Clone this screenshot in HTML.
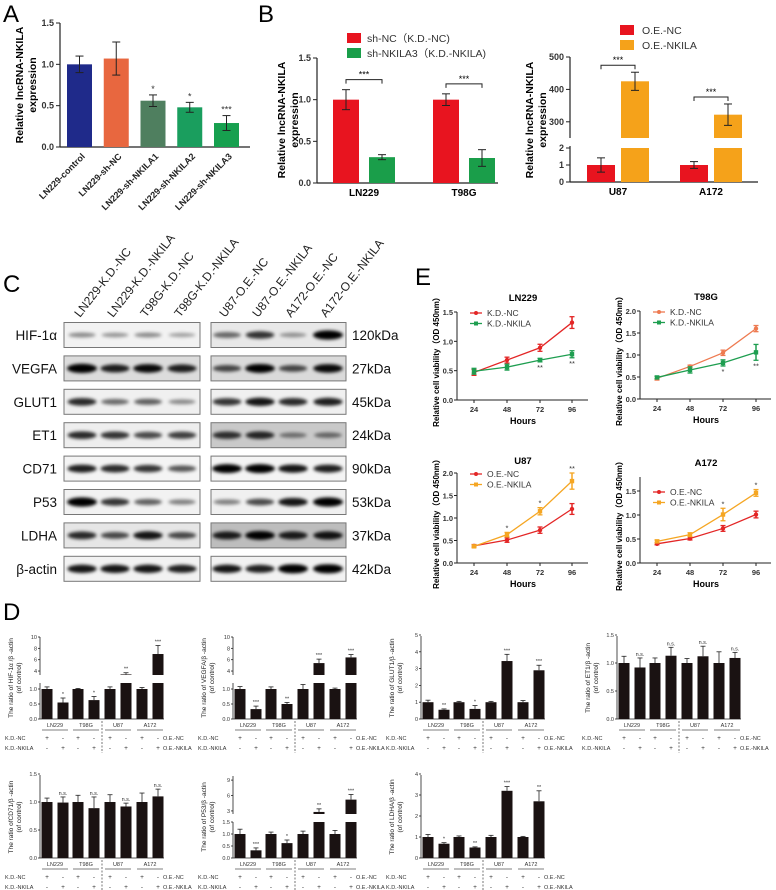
<!DOCTYPE html>
<html><head><meta charset="utf-8">
<style>
html,body{margin:0;padding:0;background:#fff;}
svg{display:block;font-family:"Liberation Sans",Arial,sans-serif;}
</style></head>
<body>
<svg id="fig" width="776" height="890" viewBox="0 0 776 890" xmlns="http://www.w3.org/2000/svg">
<defs>
<filter id="blur" x="-20%" y="-100%" width="140%" height="300%"><feGaussianBlur stdDeviation="1.6"/></filter>
</defs>
<text x="3" y="22" font-size="24">A</text>
<text x="258" y="22" font-size="24">B</text>
<text x="3" y="292" font-size="24">C</text>
<text x="415" y="285" font-size="24">E</text>
<text x="3" y="620" font-size="24">D</text>
</svg>
<script>
// ---------- Panel A data ----------
const aCats=["LN229-control","LN229-sh-NC","LN229-sh-NKILA1","LN229-sh-NKILA2","LN229-sh-NKILA3"];
const aVals=[1.0,1.07,0.56,0.48,0.29];
const aErr=[0.1,0.2,0.07,0.06,0.09];
const aSig=["","","*","*","***"];
const aColors=["#1f2a8a","#e8673f","#4f7f5f","#1a9e5e","#17a04f"];
const aTicks=[0,0.5,1.0,1.5];
// ---------- Panel B data ----------
const bLeftCats=["LN229","T98G"];
const bLeftNC=[1.0,1.0];
const bLeftNCerr=[0.12,0.07];
const bLeftKD=[0.31,0.3];
const bLeftKDerr=[0.03,0.1];
const bRightCats=["U87","A172"];
const bRightNC=[1.0,1.0];
const bRightNCerr=[0.42,0.2];
const bRightOE=[425,322];
const bRightOEerr=[28,33];
// ---------- Panel C data ----------
const cRows=["HIF-1α","VEGFA","GLUT1","ET1","CD71","P53","LDHA","β-actin"];
const cKda=["120kDa","27kDa","45kDa","24kDa","90kDa","53kDa","37kDa","42kDa"];
const cLanes=["LN229-K.D.-NC","LN229-K.D.-NKILA","T98G-K.D.-NC","T98G-K.D.-NKILA","U87-O.E.-NC","U87-O.E.-NKILA","A172-O.E.-NC","A172-O.E.-NKILA"];
const cBands=[
 [.3,.25,.3,.2,.45,.7,.25,1.0],
 [1,.8,.9,.8,.6,.95,.6,.9],
 [.75,.45,.5,.3,.7,.85,.75,.8],
 [.75,.7,.6,.65,.7,.75,.35,.4],
 [.8,.75,.7,.55,.95,.95,.85,.8],
 [1,.7,.5,.35,.35,.6,.85,1],
 [.75,.6,.85,.6,.8,.95,.8,.85],
 [.85,.85,.85,.8,.85,.8,1,1]];
const cBgL=["#f2f2f2","#dcdcdc","#f0f0f0","#eeeeee","#f4f4f4","#f2f2f2","#e6e6e6","#f2f2f2"];
const cBgR=["#e8e8e8","#dadada","#f0f0f0","#c9c9c9","#f4f4f4","#f0f0f0","#bdbdbd","#f2f2f2"];
// ---------- Panel E data ----------
const eHours=[24,48,72,96];
const eLN229NC=[0.47,0.68,0.89,1.32], eLN229NCerr=[0.05,0.05,0.06,0.1];
const eLN229KD=[0.49,0.56,0.68,0.78], eLN229KDerr=[0.05,0.05,0.03,0.06];
const eT98GNC=[0.47,0.74,1.05,1.6], eT98GNCerr=[0.04,0.03,0.06,0.07];
const eT98GKD=[0.49,0.66,0.82,1.06], eT98GKDerr=[0.03,0.07,0.07,0.18];
const eU87NC=[0.38,0.51,0.73,1.2], eU87NCerr=[0.03,0.05,0.07,0.12];
const eU87OE=[0.37,0.63,1.15,1.82], eU87OEerr=[0.03,0.05,0.08,0.18];
const eA172NC=[0.4,0.51,0.72,1.01], eA172NCerr=[0.02,0.03,0.06,0.07];
const eA172OE=[0.45,0.59,1.01,1.46], eA172OEerr=[0.03,0.04,0.13,0.07];
// ---------- Panel D data ----------
const dGroups=["LN229","T98G","U87","A172"];
const dHIF=[1.0,0.55,1.0,0.63,1.0,3.4,1.0,7.0], dHIFerr=[.07,.15,.02,.12,.07,.3,.05,1.5], dHIFsig=["","*","","*","","**","","***"];
const dVEGFA=[1.0,0.33,1.0,0.5,1.0,5.4,1.0,6.4], dVEGFAerr=[.08,.1,.07,.05,.15,.7,.03,.5], dVEGFAsig=["","***","","**","","***","","***"];
const dGLUT1=[1.0,0.55,1.0,0.6,1.0,3.45,1.0,2.9], dGLUT1err=[.12,.05,.05,.2,.05,.4,.1,.3], dGLUT1sig=["","**","","*","","***","","***"];
const dET1=[1.0,0.92,1.0,1.13,1.0,1.12,1.0,1.09], dET1err=[.12,.17,.09,.15,.08,.18,.2,.1], dET1sig=["","n.s.","","n.s.","","n.s.","","n.s."];
const dCD71=[1.0,0.99,1.0,0.89,1.0,0.92,1.0,1.1], dCD71err=[.07,.1,.12,.2,.13,.06,.16,.13], dCD71sig=["","n.s.","","n.s.","","n.s.","","n.s."];
const dP53=[1.0,0.32,1.0,0.62,1.0,2.8,1.0,5.2], dP53err=[.2,.1,.08,.13,.12,.6,.15,1.0], dP53sig=["","***","","*","","**","","***"];
const dLDHA=[1.0,0.68,1.0,0.5,1.0,3.2,1.0,2.7], dLDHAerr=[.12,.05,.05,.03,.08,.2,.03,.5], dLDHAsig=["","*","","**","","***","","**"];

const NS="http://www.w3.org/2000/svg";
const svg=document.getElementById("fig");
function el(tag,a,p){const e=document.createElementNS(NS,tag);for(const k in a)e.setAttribute(k,a[k]);(p||svg).appendChild(e);return e;}
function tx(x,y,s,a){const e=el("text",Object.assign({x:x,y:y},a||{}));e.textContent=s;return e;}
function ln(x1,y1,x2,y2,w,c){return el("line",{x1:x1,y1:y1,x2:x2,y2:y2,stroke:c||"#222","stroke-width":w||1});}
function errBar(x,yLo,yHi,cap){
  const g=el("g",{});
  
  
  el("line",{x1:x,y1:yLo,x2:x,y2:yHi,stroke:"#222","stroke-width":1},g);
  el("line",{x1:x-cap,y1:yLo,x2:x+cap,y2:yLo,stroke:"#222","stroke-width":1},g);
  el("line",{x1:x-cap,y1:yHi,x2:x+cap,y2:yHi,stroke:"#222","stroke-width":1},g);
}

// ================= Panel A =================
(function(){
  const y0=147, k=(147-23)/1.5, ax=60;
  const yA=v=>y0-v*k;
  const axis=ln(ax,23,ax,y0,1.2);
  
  
  const xa=ln(ax,y0,250,y0,1.2);
  
  
  aTicks.forEach(t=>{
    ln(ax-4,yA(t),ax,yA(t),1);
    const l=tx(ax-6,yA(t)+3,t.toFixed(1),{"font-size":9,"font-weight":"bold","text-anchor":"end",fill:"#333"});
    
    
  });
  aCats.forEach((c,i)=>{
    const cx=79.5+i*36.75;
    const r=el("rect",{x:cx-12.5,y:yA(aVals[i]),width:25,height:y0-yA(aVals[i]),fill:aColors[i]});
    
    
    errBar(cx,yA(aVals[i]-aErr[i]),yA(aVals[i]+aErr[i]),4);
    if(aSig[i]){const s=tx(cx,yA(aVals[i]+aErr[i])-3,aSig[i],{"font-size":9,"text-anchor":"middle",fill:"#333"});
      
      }
    const l=tx(cx+6,y0+10,c,{"font-size":9,"font-weight":"bold","text-anchor":"end",fill:"#222",transform:`rotate(-45 ${cx+6} ${y0+10})`});
    
    
  });
  const t1=tx(0,0,"Relative lncRNA-NKILA",{"font-size":10.5,"font-weight":"bold","text-anchor":"middle",transform:"translate(23,85) rotate(-90)"});
  
  
  const t2=tx(0,0,"expression",{"font-size":10.5,"font-weight":"bold","text-anchor":"middle",transform:"translate(36,85) rotate(-90)"});
  
  
})();

// ================= Panel B left =================
(function(){
  const y0=183, k=(183-58)/1.5, ax=317;
  const yB=v=>y0-v*k;
  const a1=ln(ax,58,ax,y0,1.2);
  
  
  const a2=ln(ax,y0,498,y0,1.2);
  
  
  [0,0.5,1.0,1.5].forEach(t=>{ln(ax-4,yB(t),ax,yB(t));
    const l=tx(ax-6,yB(t)+3,t.toFixed(1),{"font-size":9,"font-weight":"bold","text-anchor":"end",fill:"#333"});
    
    });
  const gx=[359,459];
  bLeftCats.forEach((c,i)=>{
    const xr=gx[i]-13, xg=gx[i]+23;
    const r=el("rect",{x:xr-13,y:yB(bLeftNC[i]),width:26,height:y0-yB(bLeftNC[i]),fill:"#e8141f"});
    
    
    errBar(xr,yB(bLeftNC[i]-bLeftNCerr[i]),yB(bLeftNC[i]+bLeftNCerr[i]),4);
    const g=el("rect",{x:xg-13,y:yB(bLeftKD[i]),width:26,height:y0-yB(bLeftKD[i]),fill:"#1a9e4a"});
    
    
    errBar(xg,yB(bLeftKD[i]-bLeftKDerr[i]),yB(bLeftKD[i]+bLeftKDerr[i]),4);
    const by=yB(Math.max(bLeftNC[i]+bLeftNCerr[i],bLeftKD[i]+bLeftKDerr[i]))-10;
    const br=el("path",{d:`M${xr} ${by+4}V${by}H${xg}V${by+4}`,fill:"none",stroke:"#222","stroke-width":1});
    
    
    tx((xr+xg)/2,by-2,"***",{"font-size":9,"text-anchor":"middle"});
    const l=tx(gx[i]+5,y0+13,c,{"font-size":10,"font-weight":"bold","text-anchor":"middle"});
    
    
  });
  const t1=tx(0,0,"Relative lncRNA-NKILA",{"font-size":10.5,"font-weight":"bold","text-anchor":"middle",transform:"translate(285,120) rotate(-90)"});
  
  
  tx(0,0,"expression",{"font-size":10.5,"font-weight":"bold","text-anchor":"middle",transform:"translate(298,120) rotate(-90)"});
  const lg1=el("rect",{x:347,y:33,width:14,height:10,fill:"#e8141f"});
  
  
  const lt1=tx(367,42,"sh-NC（K.D.-NC)",{"font-size":10.5,fill:"#333"});
  
  
  const lg2=el("rect",{x:347,y:48,width:14,height:10,fill:"#1a9e4a"});
  
  
  const lt2=tx(367,57,"sh-NKILA3（K.D.-NKILA)",{"font-size":10.5,fill:"#333"});
  
  
})();

// ================= Panel B right (broken axis) =================
(function(){
  const ax=570, y0=182;
  const yLow=v=>y0-v*((182-148)/2);
  const yUp=v=>138-(v-250)*((138-57)/250);
  const yR=v=>v<=2?yLow(v):yUp(v);
  const a1=ln(ax,57,ax,138,1.2);
  
  
  const a2=ln(ax,146,ax,y0,1.2);
  
  
  const a3=ln(ax,y0,758,y0,1.2);
  
  
  [300,400,500].forEach(t=>{ln(ax-4,yUp(t),ax,yUp(t));
    const l=tx(ax-6,yUp(t)+3,String(t),{"font-size":9,"font-weight":"bold","text-anchor":"end",fill:"#333"});
    
    });
  [0,1,2].forEach(t=>{ln(ax-4,yLow(t),ax,yLow(t));
    const l=tx(ax-6,yLow(t)+3,String(t),{"font-size":9,"font-weight":"bold","text-anchor":"end",fill:"#333"});
    
    });
  const gx=[618,711];
  bRightCats.forEach((c,i)=>{
    const xr=gx[i]-17, xo=gx[i]+17;
    const r=el("rect",{x:xr-14,y:yR(bRightNC[i]),width:28,height:y0-yR(bRightNC[i]),fill:"#e8141f"});
    
    
    errBar(xr,yR(bRightNC[i]-bRightNCerr[i]),yR(bRightNC[i]+bRightNCerr[i]),4);
    const o1=el("rect",{x:xo-14,y:148,width:28,height:34,fill:"#f5a21a"});
    
    
    const o2=el("rect",{x:xo-14,y:yUp(bRightOE[i]),width:28,height:138-yUp(bRightOE[i]),fill:"#f5a21a"});
    
    
    errBar(xo,yUp(bRightOE[i]-bRightOEerr[i]),yUp(bRightOE[i]+bRightOEerr[i]),4);
    const by=yUp(bRightOE[i]+bRightOEerr[i])-7;
    const br=el("path",{d:`M${xr} ${by+4}V${by}H${xo}V${by+4}`,fill:"none",stroke:"#222","stroke-width":1});
    
    
    tx((xr+xo)/2,by-2,"***",{"font-size":9,"text-anchor":"middle"});
    const l=tx(gx[i],y0+13,c,{"font-size":10,"font-weight":"bold","text-anchor":"middle"});
    
    
  });
  const t1=tx(0,0,"Relative lncRNA-NKILA",{"font-size":10.5,"font-weight":"bold","text-anchor":"middle",transform:"translate(533,120) rotate(-90)"});
  
  
  tx(0,0,"expression",{"font-size":10.5,"font-weight":"bold","text-anchor":"middle",transform:"translate(546,120) rotate(-90)"});
  const lg1=el("rect",{x:620,y:25,width:14,height:10,fill:"#e8141f"});
  
  
  const lt1=tx(642,34,"O.E.-NC",{"font-size":10.5,fill:"#333"});
  
  
  const lg2=el("rect",{x:620,y:40,width:14,height:10,fill:"#f5a21a"});
  
  
  const lt2=tx(642,49,"O.E.-NKILA",{"font-size":10.5,fill:"#333"});
  
  
})();

// ================= Panel C blots =================
(function(){
  const laneX=[82,115,148,182,227,260,293,328];
  laneX.forEach((x,i)=>{
    const l=tx(0,0,cLanes[i],{"font-size":12,fill:"#222",transform:`translate(${x-2},${318}) rotate(-52)`});
    
    
  });
  cRows.forEach((r,j)=>{
    const yc=335+j*33.4;
    const lab=tx(57,yc+5,r,{"font-size":13.5,"text-anchor":"end",fill:"#111"});
    
    
    const bl=el("rect",{x:64,y:yc-12.5,width:136,height:25,fill:cBgL[j],stroke:"#777","stroke-width":1});
    
    
    const brx=el("rect",{x:211,y:yc-12.5,width:135,height:25,fill:cBgR[j],stroke:"#777","stroke-width":1});
    
    
    laneX.forEach((x,i)=>{
      const v=cBands[j][i];
      const b=el("ellipse",{cx:x,cy:yc,rx:13+v*2,ry:1.6+v*3,fill:"#000","fill-opacity":Math.min(1,0.15+v*0.9),filter:"url(#blur)"});
      
      
    });
    const kd=tx(352,yc+5,cKda[j],{"font-size":13.5,fill:"#111"});
    
    
  });
})();

// ================= Panel E line charts =================
function lineChart(o){
  const yS=v=>o.y0-v*(o.y0-o.yTop)/o.max;
  const xS=i=>o.xt[i];
  const a1=ln(o.ax,o.axTop,o.ax,o.y0,1);
  
  
  const a2=ln(o.ax,o.y0,o.ax+131,o.y0,1);
  
  
  o.ticks.forEach(t=>{ln(o.ax-3,yS(t),o.ax,yS(t));
    const l=tx(o.ax-4,yS(t)+3,t.toFixed(1),{"font-size":7.5,"font-weight":"bold","text-anchor":"end",fill:"#333"});
    
    });
  eHours.forEach((h,i)=>{ln(xS(i),o.y0,xS(i),o.y0+3);
    const l=tx(xS(i),o.y0+12,String(h),{"font-size":7.5,"font-weight":"bold","text-anchor":"middle",fill:"#333"});
    
    });
  const ht=tx(o.ax+66,o.y0+24,"Hours",{"font-size":9,"font-weight":"bold","text-anchor":"middle"});
  
  
  const tt=tx(o.ax+66,o.titleY,o.title,{"font-size":9.5,"font-weight":"bold","text-anchor":"middle"});
  
  
  const yt=tx(0,0,"Relative cell viability（OD 450nm）",{"font-size":8,"font-weight":"bold","text-anchor":"middle",transform:`translate(${o.ax-18},${(o.axTop+o.y0)/2+4}) rotate(-90)`});
  
  
  o.series.forEach((s,si)=>{
    const pts=s.v.map((v,i)=>xS(i)+","+yS(v)).join(" ");
    const pl=el("polyline",{points:pts,fill:"none",stroke:s.c,"stroke-width":1.3});
    
    
    s.v.forEach((v,i)=>{
      const g=el("g",{});
      
      
      el("line",{x1:xS(i),y1:yS(v-s.e[i]),x2:xS(i),y2:yS(v+s.e[i]),stroke:s.c,"stroke-width":1.5},g);
      el("line",{x1:xS(i)-2.5,y1:yS(v-s.e[i]),x2:xS(i)+2.5,y2:yS(v-s.e[i]),stroke:s.c,"stroke-width":1.3},g);
      el("line",{x1:xS(i)-2.5,y1:yS(v+s.e[i]),x2:xS(i)+2.5,y2:yS(v+s.e[i]),stroke:s.c,"stroke-width":1.3},g);
      if(si===0) el("circle",{cx:xS(i),cy:yS(v),r:2.2,fill:s.c},g);
      else el("rect",{x:xS(i)-2.2,y:yS(v)-2.2,width:4.4,height:4.4,fill:s.c},g);
    });
    const ly=o.yTop+1+si*10.5;
    ln(o.ax+13,ly,o.ax+25,ly,1.3,s.c);
    if(si===0) el("circle",{cx:o.ax+19,cy:ly,r:2,fill:s.c}); else el("rect",{x:o.ax+17,y:ly-2,width:4,height:4,fill:s.c});
    const lt=tx(o.ax+30,ly+3,s.label,{"font-size":8.5,fill:"#333"});
    
    
  });
  (o.sig||[]).forEach((s,i)=>{ if(s){
    const v=o.sigAbove?Math.max(o.series[0].v[i]+o.series[0].e[i],o.series[1].v[i]+o.series[1].e[i]):Math.min(o.series[1].v[i]-o.series[1].e[i],o.series[0].v[i]);
    const y=o.sigAbove?yS(v)-2:yS(v)+8;
    const m=tx(xS(i),y,s,{"font-size":7.5,"text-anchor":"middle",fill:"#333"});
    
    
  }});
}
const xL=[474,507,540,572], xR=[657,690,723,756];
lineChart({title:"LN229",ax:457,y0:400,yTop:312,axTop:312,max:1.5,ticks:[0,0.5,1.0,1.5],xt:xL,titleY:301,
  series:[{n:"kd-nc",label:"K.D.-NC",c:"#e32626",v:eLN229NC,e:eLN229NCerr},{n:"kd-nkila",label:"K.D.-NKILA",c:"#1e9e50",v:eLN229KD,e:eLN229KDerr}],sig:["","","**","**"]});
lineChart({title:"T98G",ax:640,y0:399,yTop:311,axTop:311,max:2.0,ticks:[0,0.5,1.0,1.5,2.0],xt:xR,titleY:300,
  series:[{n:"kd-nc",label:"K.D.-NC",c:"#ee7a50",v:eT98GNC,e:eT98GNCerr},{n:"kd-nkila",label:"K.D.-NKILA",c:"#1e9e50",v:eT98GKD,e:eT98GKDerr}],sig:["","","*","**"]});
lineChart({title:"U87",ax:457,y0:563,yTop:473,axTop:473,max:2.0,ticks:[0,0.5,1.0,1.5,2.0],xt:xL,titleY:464,sigAbove:true,
  series:[{n:"oe-nc",label:"O.E.-NC",c:"#e32626",v:eU87NC,e:eU87NCerr},{n:"oe-nkila",label:"O.E.-NKILA",c:"#f5a623",v:eU87OE,e:eU87OEerr}],sig:["","*","*","**"]});
lineChart({title:"A172",ax:640,y0:563,yTop:491,axTop:477,max:1.5,ticks:[0,0.5,1.0,1.5],xt:xR,titleY:466,sigAbove:true,
  series:[{n:"oe-nc",label:"O.E.-NC",c:"#e32626",v:eA172NC,e:eA172NCerr},{n:"oe-nkila",label:"O.E.-NKILA",c:"#f5a623",v:eA172OE,e:eA172OEerr}],sig:["","","*","*"]});

// ================= Panel D bar charts =================
const dOff=[7,23,38,54,70,86,102,118];
function dChart(o){
  const ax=o.ax, dy=o.dy, y0=719+dy;
  let yS;
  if(o.broken){
    const lowK=36/o.lowMax, upK=38/(o.upMax-o.upMin);
    yS=v=>v<=o.lowMax? y0-v*lowK : 675+dy-(v-o.upMin)*upK;
    ln(ax,637+dy,ax,675+dy,0.8); ln(ax,683+dy,ax,y0,0.8);
    o.lowTicks.forEach(t=>{ln(ax-2,yS(t),ax,yS(t),0.8);tx(ax-3,yS(t)+2,t.toFixed(1),{"font-size":5.5,"text-anchor":"end",fill:"#333"});});
    o.upTicks.forEach(t=>{ln(ax-2,yS(t),ax,yS(t),0.8);tx(ax-3,yS(t)+2,String(t),{"font-size":5.5,"text-anchor":"end",fill:"#333"});});
  } else {
    yS=v=>y0-v*(84/o.max);
    ln(ax,636+dy,ax,y0,0.8);
    o.ticks.forEach(t=>{ln(ax-2,yS(t),ax,yS(t),0.8);tx(ax-3,yS(t)+2,o.max<2?t.toFixed(1):String(t),{"font-size":5.5,"text-anchor":"end",fill:"#333"});});
  }
  const xa=ln(ax,y0,ax+124,y0,0.8);
  
  
  o.v.forEach((v,i)=>{
    const cx=ax+dOff[i];
    if(o.broken && v>o.lowMax){
      const r1=el("rect",{x:cx-5.5,y:683+dy,width:11,height:36,fill:"#1a1212"});
      
      
      const r2=el("rect",{x:cx-5.5,y:yS(v),width:11,height:675+dy-yS(v),fill:"#1a1212"});
      
      
    } else {
      const r=el("rect",{x:cx-5.5,y:yS(v),width:11,height:y0-yS(v),fill:"#1a1212"});
      
      
    }
    const top=yS(v+o.e[i]);
    ln(cx,yS(v),cx,top,0.8); ln(cx-2.5,top,cx+2.5,top,0.8);
    if(o.sig[i]){const s=tx(cx,top-2,o.sig[i],{"font-size":5.5,"text-anchor":"middle",fill:"#333"});
      
      }
  });
  dGroups.forEach((g,k)=>{
    const gc=ax+(dOff[2*k]+dOff[2*k+1])/2;
    tx(gc,y0+8,g,{"font-size":5.5,"text-anchor":"middle",fill:"#333"});
    ln(gc-13,y0+11,gc+13,y0+11,0.8,"#555");
  });
  const dl=el("line",{x1:ax+62,y1:y0+2,x2:ax+62,y2:y0+34,stroke:"#555","stroke-width":0.8,"stroke-dasharray":"2,1.5"});
  
  
  tx(ax-35,y0+21,"K.D.-NC",{"font-size":5.5,fill:"#333"});
  tx(ax-35,y0+31,"K.D.-NKILA",{"font-size":5.5,fill:"#333"});
  tx(ax+123,y0+21,"O.E.-NC",{"font-size":5.5,fill:"#333"});
  tx(ax+123,y0+31,"O.E.-NKILA",{"font-size":5.5,fill:"#333"});
  dOff.forEach((d,i)=>{
    tx(ax+d,y0+21,i%2===0?"+":"-",{"font-size":6.5,"text-anchor":"middle",fill:"#333"});
    tx(ax+d,y0+31,i%2===0?"-":"+",{"font-size":6.5,"text-anchor":"middle",fill:"#333"});
  });
  const yt=tx(0,0,o.label,{"font-size":6.5,"text-anchor":"middle",fill:"#222",transform:`translate(${ax-27},${678+dy}) rotate(-90)`});
  
  
  tx(0,0,"(of control)",{"font-size":6.5,"text-anchor":"middle",fill:"#222",transform:`translate(${ax-19},${678+dy}) rotate(-90)`});
}
dChart({ax:40,dy:0,label:"The ratio of HIF-1α /β -actin",v:dHIF,e:dHIFerr,sig:dHIFsig,broken:true,lowMax:1.2,upMin:3.3,upMax:10,lowTicks:[0,0.5,1.0],upTicks:[4,6,8,10]});
dChart({ax:233,dy:0,label:"The ratio of VEGFA/β -actin",v:dVEGFA,e:dVEGFAerr,sig:dVEGFAsig,broken:true,lowMax:1.2,upMin:3.3,upMax:10,lowTicks:[0,0.5,1.0],upTicks:[4,6,8,10]});
dChart({ax:421,dy:0,label:"The ratio of GLUT1/β -actin",v:dGLUT1,e:dGLUT1err,sig:dGLUT1sig,max:5,ticks:[0,1,2,3,4,5]});
dChart({ax:617,dy:0,label:"The ratio of ET1/β -actin",v:dET1,e:dET1err,sig:dET1sig,max:1.5,ticks:[0,0.5,1.0,1.5]});
dChart({ax:40,dy:139,label:"The ratio ofCD71/β -actin",v:dCD71,e:dCD71err,sig:dCD71sig,max:1.5,ticks:[0,0.5,1.0,1.5]});
dChart({ax:233,dy:139,label:"The ratio of P53/β -actin",v:dP53,e:dP53err,sig:dP53sig,broken:true,lowMax:1.5,upMin:2.4,upMax:9.8,lowTicks:[0,0.5,1.0,1.5],upTicks:[3,6,9]});
dChart({ax:421,dy:139,label:"The ratio of LDHA/β -actin",v:dLDHA,e:dLDHAerr,sig:dLDHAsig,max:4,ticks:[0,1,2,3,4]});
</script>
</body></html>
